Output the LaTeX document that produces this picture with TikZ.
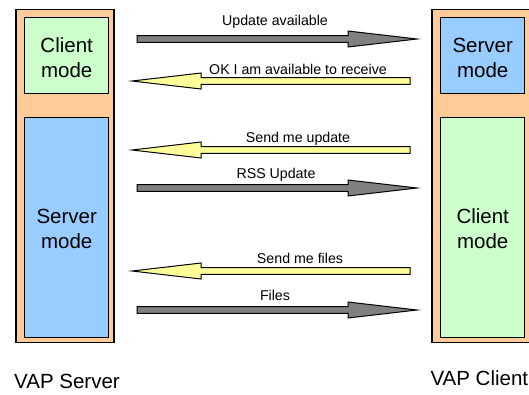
\documentclass[tikz,border=0pt]{standalone}
\usepackage{fontspec}
\setmainfont{Liberation Sans}
\usetikzlibrary{calc}
\definecolor{peach}{HTML}{FFCC99}
\definecolor{mintgreen}{HTML}{CCFFCC}
\definecolor{skyblue}{HTML}{99CCFF}
\definecolor{msggray}{HTML}{808080}
\definecolor{msgyellow}{HTML}{FFFF99}
\tikzset{
  device/.style={draw=black, line width=1.4pt, fill=peach},
  modebox/.style={draw=black, line width=1.4pt},
  bigtext/.style={font=\fontsize{20.5}{25}\selectfont, align=center},
  msglabel/.style={font=\fontsize{14.2}{16}\selectfont, inner sep=0pt},
  fatarrowline/.style={draw=black, line width=1pt, line join=miter},
}
% thick block arrow from coordinate #1 to coordinate #2, filled with #3
\newcommand\blockarrow[3]{%
  \draw[fatarrowline, fill=#3] let \p1=(#1), \p2=(#2),
    \n1={ifthenelse(\x2>\x1,1,-1)} in
    (\x1,{\y1+3.4pt}) -- ({\x2-\n1*69pt},{\y1+3.4pt}) --
    ({\x2-\n1*69pt},{\y1+8pt}) -- (\x2,\y1) --
    ({\x2-\n1*69pt},{\y1-8pt}) -- ({\x2-\n1*69pt},{\y1-3.4pt}) --
    (\x1,{\y1-3.4pt}) -- cycle;
}
\begin{document}
\begin{tikzpicture}[x=1pt, y=-1pt]
\useasboundingbox (0,0) rectangle (529,394);

% VAP server (left)
\draw[device] (16,9.5) rectangle (114,342.5);
\node[modebox, fill=mintgreen, minimum width=84pt, minimum height=76pt, anchor=north west] (lclient) at (24,17) {};
\node[modebox, fill=skyblue, minimum width=84pt, minimum height=220pt, anchor=north west] (lserver) at (24,117) {};
\node[bigtext] (lclienttxt) at ($(lclient.center)+(0,2)$) {Client\\mode};
\node[bigtext] (lservertxt) at ($(lserver.center)+(0,1)$) {Server\\mode};
\node[bigtext] (vapserver) at (67,381) {VAP Server};

% VAP client (right)
\draw[device] (432,9.5) rectangle (531,342.5);
\node[modebox, fill=skyblue, minimum width=84pt, minimum height=76pt, anchor=north west] (rserver) at (440,17) {};
\node[modebox, fill=mintgreen, minimum width=84pt, minimum height=220pt, anchor=north west] (rclient) at (440,117) {};
\node[bigtext] (rservertxt) at ($(rserver.center)+(0,2)$) {Server\\mode};
\node[bigtext] (rclienttxt) at ($(rclient.center)+(0,1)$) {Client\\mode};
\node[bigtext, anchor=west] (vapclient) at (427,378) {VAP Client};

% message end points
\coordinate (m1s) at (137,39);  \coordinate (m1e) at (417,39);
\coordinate (m2s) at (410,81);  \coordinate (m2e) at (132,81);
\coordinate (m3s) at (410,150); \coordinate (m3e) at (132,150);
\coordinate (m4s) at (137,188); \coordinate (m4e) at (417,188);
\coordinate (m5s) at (410,271); \coordinate (m5e) at (132,271);
\coordinate (m6s) at (137,310); \coordinate (m6e) at (417,310);

\blockarrow{m1s}{m1e}{msggray}
\blockarrow{m2s}{m2e}{msgyellow}
\blockarrow{m3s}{m3e}{msgyellow}
\blockarrow{m4s}{m4e}{msggray}
\blockarrow{m5s}{m5e}{msgyellow}
\blockarrow{m6s}{m6e}{msggray}

% message labels
\node[msglabel] (l1) at (275,22) {Update available};
\node[msglabel] (l2) at (298,69) {OK I am available to receive};
\node[msglabel] (l3) at (298,139) {Send me update};
\node[msglabel] (l4) at (276,175) {RSS Update};
\node[msglabel] (l5) at (300,258) {Send me files};
\node[msglabel] (l6) at (275,295) {Files};
\end{tikzpicture}
\end{document}
